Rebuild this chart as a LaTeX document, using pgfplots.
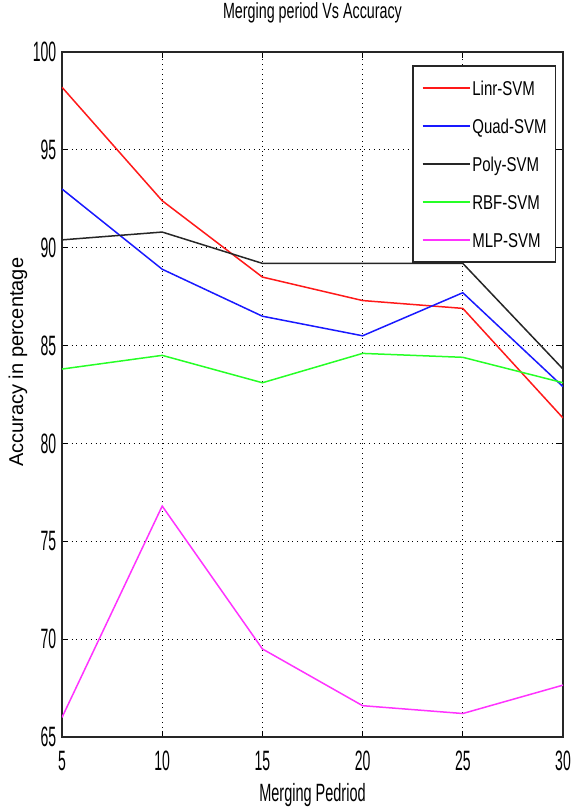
\documentclass[border=0pt]{standalone}
\usepackage{fontspec}
\setmainfont{Liberation Sans}[FakeStretch=0.65]
\newfontfamily\ylabfont{Liberation Sans}
\newfontfamily\tickfont{Liberation Sans}[FakeStretch=0.5]
\newfontfamily\legfont{Liberation Sans}[FakeStretch=0.75]
\newfontfamily\xlabfont{Liberation Sans}[FakeStretch=0.58]
\usepackage{pgfplots}
\pgfplotsset{compat=1.18}
\definecolor{cred}{rgb}{1,0.1,0.1}
\definecolor{cblue}{rgb}{0.1,0.1,1}
\definecolor{cblack}{rgb}{0.15,0.15,0.15}
\definecolor{cgreen}{rgb}{0.15,1,0.15}
\definecolor{cmag}{rgb}{1,0.2,1}
\begin{document}
\begin{tikzpicture}
\useasboundingbox (-31pt,-35pt) rectangle (254pt,368.5pt);
\begin{axis}[
  at={(0pt,0pt)}, anchor=south west,
  scale only axis, width=250.5pt, height=342.5pt,
  font=\fontsize{11}{13}\selectfont,
  xmin=5, xmax=30, ymin=65, ymax=100,
  xtick={5,10,15,20,25,30}, ytick={65,70,75,80,85,90,95,100},
  grid=major, major grid style={black, dotted, line width=0.55pt},
  tick align=inside, major tick length=3pt,
  tick style={black, line width=0.6pt},
  axis line style={cblack, line width=0.9pt},
  /pgf/number format/assume math mode=true,
  ticklabel style={font=\tickfont\fontsize{14}{16}\selectfont},
  title={Merging period Vs Accuracy},
  title style={at={(axis description cs:0.5,1)}, anchor=base, yshift=10.5pt, inner sep=0pt},
  xlabel={\xlabfont\fontsize{12.5}{14}\selectfont Merging Pedriod},
  xlabel style={at={(axis description cs:0.5,0)}, anchor=base, yshift=-32pt, inner sep=0pt},
  ylabel={\ylabfont\fontsize{10}{12}\selectfont Accuracy in percentage},
  ylabel style={at={(axis description cs:-0.088,0.547)}, anchor=center, inner sep=0pt},
  xticklabel style={anchor=base, yshift=-16.5pt},
  yticklabel style={inner sep=2.7pt},
  legend image code/.code={\draw[#1] (0pt,0pt) -- (23.5pt,0pt);},
  legend style={at={(0.987,0.981)}, anchor=north east, draw=cblack, line width=0.9pt,
    fill=white, inner xsep=4.5pt, inner ysep=1.5pt, row sep=0pt, column sep=1pt,
    font=\legfont\fontsize{10}{12}\selectfont,
    nodes={inner sep=0pt, text height=13.1pt, text depth=5.9pt}},
  legend cell align=left,
  every axis plot/.append style={line width=0.75pt},
]
\addplot[cred] coordinates {(5,98.2)(10,92.4)(15,88.5)(20,87.3)(25,86.9)(30,81.3)};
\addlegendentry{Linr-SVM}
\addplot[cblue] coordinates {(5,93.0)(10,88.9)(15,86.5)(20,85.5)(25,87.7)(30,82.9)};
\addlegendentry{Quad-SVM}
\addplot[cblack] coordinates {(5,90.4)(10,90.8)(15,89.2)(20,89.2)(25,89.2)(30,83.8)};
\addlegendentry{Poly-SVM}
\addplot[cgreen] coordinates {(5,83.8)(10,84.5)(15,83.1)(20,84.6)(25,84.4)(30,83.1)};
\addlegendentry{RBF-SVM}
\addplot[cmag] coordinates {(5,66.0)(10,76.8)(15,69.5)(20,66.6)(25,66.2)(30,67.65)};
\addlegendentry{MLP-SVM}
\end{axis}
\end{tikzpicture}
\end{document}
